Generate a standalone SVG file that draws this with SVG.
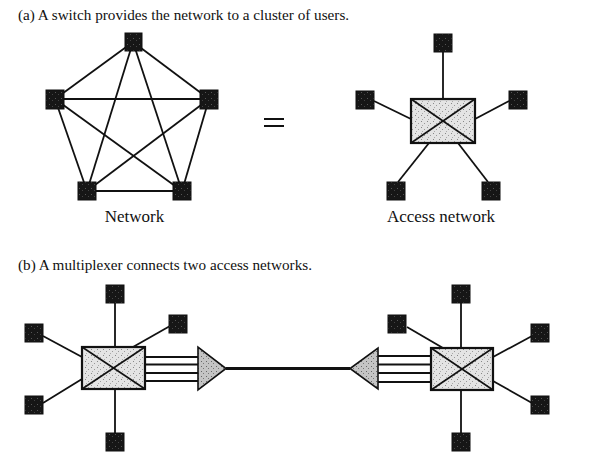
<svg xmlns="http://www.w3.org/2000/svg" width="614" height="464" viewBox="0 0 614 464">
<style>
text{font-family:"Liberation Serif","Times New Roman",serif;fill:#111}
.hdr{font-size:15.2px}
.lbl{font-size:17px;text-anchor:middle}
.ln{stroke:#111;stroke-width:1.8;fill:none}
.node{fill:url(#dark);stroke:#111;stroke-width:1}
.sw{fill:url(#light);stroke:#111;stroke-width:2.2}
.x{stroke:#111;stroke-width:1.6}
.mux{fill:url(#mid);stroke:#111;stroke-width:1.6}
.trunk{stroke:#111;stroke-width:3.2}
</style>
<defs>
<pattern id="dark" width="6" height="6" patternUnits="userSpaceOnUse">
<rect width="6" height="6" fill="#161616"/>
<rect x="1" y="2" width="1" height="1" fill="#555"/>
<rect x="4" y="4" width="1" height="1" fill="#444"/>
</pattern>
<pattern id="light" width="6" height="6" patternUnits="userSpaceOnUse">
<rect width="6" height="6" fill="#e4e4e4"/>
<rect x="1" y="1" width="1" height="1" fill="#888"/>
<rect x="4" y="3" width="1" height="1" fill="#999"/>
<rect x="2" y="5" width="1" height="1" fill="#aaa"/>
</pattern>
<pattern id="mid" width="5" height="5" patternUnits="userSpaceOnUse">
<rect width="5" height="5" fill="#c4c4c4"/>
<rect x="1" y="1" width="1" height="1" fill="#666"/>
<rect x="3" y="3" width="1" height="1" fill="#777"/>
</pattern>
</defs>

<text class="hdr" x="18" y="20">(a) A switch provides the network to a cluster of users.</text>
<text class="hdr" x="18" y="270">(b) A multiplexer connects two access networks.</text>

<g id="connectors">
<!-- mesh -->
<line class="ln" x1="133" y1="42" x2="55" y2="99"/>
<line class="ln" x1="133" y1="42" x2="209" y2="99"/>
<line class="ln" x1="133" y1="42" x2="87" y2="191"/>
<line class="ln" x1="133" y1="42" x2="182" y2="191"/>
<line class="ln" x1="55" y1="99" x2="209" y2="99"/>
<line class="ln" x1="55" y1="99" x2="87" y2="191"/>
<line class="ln" x1="55" y1="99" x2="182" y2="191"/>
<line class="ln" x1="209" y1="99" x2="87" y2="191"/>
<line class="ln" x1="209" y1="99" x2="182" y2="191"/>
<line class="ln" x1="87" y1="191" x2="182" y2="191"/>
<!-- access network -->
<line class="ln" x1="443" y1="52" x2="443" y2="99"/>
<line class="ln" x1="374" y1="101" x2="411" y2="119"/>
<line class="ln" x1="509" y1="101" x2="475" y2="119"/>
<line class="ln" x1="398" y1="182" x2="429" y2="143"/>
<line class="ln" x1="488" y1="182" x2="458" y2="143"/>
<!-- (b) left -->
<line class="ln" x1="115" y1="303" x2="115" y2="347"/>
<line class="ln" x1="115" y1="389" x2="115" y2="433"/>
<line class="ln" x1="43" y1="336" x2="82" y2="357"/>
<line class="ln" x1="43" y1="403" x2="82" y2="379"/>
<line class="ln" x1="170" y1="326" x2="133" y2="347"/>
<line class="ln" x1="145" y1="357" x2="198" y2="357"/>
<line class="ln" x1="145" y1="364.5" x2="198" y2="364.5"/>
<line class="ln" x1="145" y1="373" x2="198" y2="373"/>
<line class="ln" x1="145" y1="381" x2="198" y2="381"/>
<!-- trunk -->
<line class="trunk" x1="226" y1="368.5" x2="350" y2="368.5"/>
<!-- (b) right -->
<line class="ln" x1="378" y1="356" x2="431" y2="356"/>
<line class="ln" x1="378" y1="364.5" x2="431" y2="364.5"/>
<line class="ln" x1="378" y1="373" x2="431" y2="373"/>
<line class="ln" x1="378" y1="382" x2="431" y2="382"/>
<line class="ln" x1="461" y1="303" x2="461" y2="348"/>
<line class="ln" x1="461" y1="390" x2="461" y2="433"/>
<line class="ln" x1="407" y1="327" x2="443" y2="348"/>
<line class="ln" x1="532" y1="336" x2="493" y2="357"/>
<line class="ln" x1="532" y1="403" x2="493" y2="381"/>
</g>

<g id="equals">
<rect x="264" y="118" width="20" height="2" fill="#111"/>
<rect x="264" y="125" width="20" height="2" fill="#111"/>
</g>

<!-- mesh nodes -->
<g id="mesh-top"><rect class="node" x="125" y="33" width="17" height="18"/></g>
<g id="mesh-left"><rect class="node" x="46" y="90" width="18" height="19"/></g>
<g id="mesh-right"><rect class="node" x="200" y="90" width="18" height="19"/></g>
<g id="mesh-bl"><rect class="node" x="78" y="182" width="18" height="18"/></g>
<g id="mesh-br"><rect class="node" x="173" y="182" width="18" height="18"/></g>
<text class="lbl" x="134.5" y="222">Network</text>

<!-- access network -->
<g id="an-switch"><rect class="sw" x="411" y="99" width="64" height="44"/>
<line class="x" x1="411" y1="99" x2="475" y2="143"/><line class="x" x1="475" y1="99" x2="411" y2="143"/></g>
<g id="an-top"><rect class="node" x="434" y="34" width="18" height="18"/></g>
<g id="an-left"><rect class="node" x="356" y="91" width="18" height="18"/></g>
<g id="an-right"><rect class="node" x="509" y="91" width="18" height="18"/></g>
<g id="an-bl"><rect class="node" x="387" y="182" width="18" height="18"/></g>
<g id="an-br"><rect class="node" x="482" y="182" width="18" height="18"/></g>
<text class="lbl" x="441" y="222">Access network</text>

<!-- (b) left access network -->
<g id="l-switch"><rect class="sw" x="82" y="347" width="63" height="42"/>
<line class="x" x1="82" y1="347" x2="145" y2="389"/><line class="x" x1="145" y1="347" x2="82" y2="389"/></g>
<g id="l-mux"><polygon class="mux" points="198,347 198,390 226,368.5"/></g>
<g id="l-top"><rect class="node" x="106" y="285" width="18" height="18"/></g>
<g id="l-ul"><rect class="node" x="25" y="324" width="18" height="18"/></g>
<g id="l-ur"><rect class="node" x="169" y="315" width="18" height="18"/></g>
<g id="l-ll"><rect class="node" x="25" y="396" width="18" height="18"/></g>
<g id="l-bottom"><rect class="node" x="106" y="433" width="18" height="18"/></g>

<!-- (b) right access network -->
<g id="r-mux"><polygon class="mux" points="378,348 378,389 350,368.5"/></g>
<g id="r-switch"><rect class="sw" x="431" y="348" width="62" height="42"/>
<line class="x" x1="431" y1="348" x2="493" y2="390"/><line class="x" x1="493" y1="348" x2="431" y2="390"/></g>
<g id="r-top"><rect class="node" x="452" y="285" width="18" height="18"/></g>
<g id="r-ul"><rect class="node" x="388" y="315" width="18" height="18"/></g>
<g id="r-ur"><rect class="node" x="531" y="324" width="18" height="18"/></g>
<g id="r-lr"><rect class="node" x="531" y="396" width="18" height="18"/></g>
<g id="r-bottom"><rect class="node" x="452" y="433" width="18" height="18"/></g>
</svg>
